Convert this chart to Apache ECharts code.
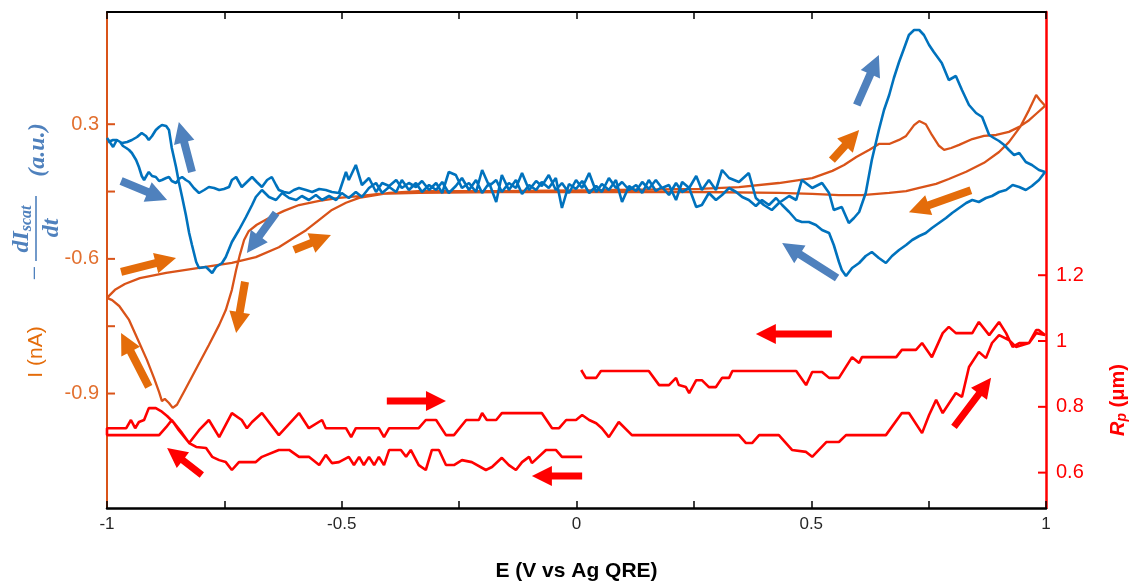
<!DOCTYPE html>
<html>
<head>
<meta charset="utf-8">
<script src="https://cdn.jsdelivr.net/npm/echarts@6/dist/echarts.min.js"></script>
<style>html,body{margin:0;padding:0;background:#fff}#c{width:1131px;height:583px}</style>
</head>
<body>
<div id="c"></div>
<script>
// ---- axis ticks / labels ----
const xLabelValues = [-1, -0.5, 0, 0.5, 1];
const leftTickValues = [-0.9, -0.75, -0.6, -0.45, -0.3];
const leftLabelValues = [-0.9, -0.6, -0.3];
const leftLabelTexts = ['-0.9', '-0.6', '0.3'];
const rightTickValues = [0.6, 0.8, 1, 1.2];
const rightLabelTexts = ['0.6', '0.8', '1', '1.2'];

// ---- -dI_scat/dt (a.u.), forward scan -1 -> 1 ----
const blueFwd = [[-1.000,0.52],[-0.994,0.48],[-0.987,0.43],[-0.979,0.50],[-0.972,0.48],[-0.966,0.44],[-0.959,0.42],[-0.953,0.40],[-0.947,0.37],[-0.938,0.30],[-0.932,0.23],[-0.926,0.14],[-0.921,0.10],[-0.915,0.15],[-0.911,0.18],[-0.904,0.14],[-0.896,0.13],[-0.889,0.09],[-0.883,0.10],[-0.874,0.12],[-0.868,0.13],[-0.862,0.09],[-0.853,0.07],[-0.847,0.11],[-0.840,0.13],[-0.832,0.10],[-0.825,0.08],[-0.815,0.02],[-0.804,-0.03],[-0.793,0.00],[-0.783,0.03],[-0.772,0.02],[-0.761,0.00],[-0.751,0.01],[-0.740,0.03],[-0.734,0.10],[-0.725,0.13],[-0.719,0.08],[-0.713,0.03],[-0.702,0.08],[-0.691,0.13],[-0.681,0.08],[-0.670,0.03],[-0.659,0.10],[-0.649,0.13],[-0.640,0.05],[-0.634,0.00],[-0.623,-0.02],[-0.612,-0.03],[-0.602,0.00],[-0.591,0.02],[-0.576,0.00],[-0.563,-0.02],[-0.548,0.01],[-0.534,0.00],[-0.521,-0.02],[-0.506,-0.03],[-0.491,0.18],[-0.485,0.10],[-0.470,0.25],[-0.457,0.05],[-0.442,0.12],[-0.427,-0.02],[-0.414,0.07],[-0.399,0.04],[-0.384,0.10],[-0.372,0.02],[-0.357,0.07],[-0.342,0.03],[-0.329,0.09],[-0.314,0.00],[-0.299,0.07],[-0.286,-0.03],[-0.272,0.18],[-0.257,0.15],[-0.244,0.02],[-0.229,0.07],[-0.214,-0.02],[-0.201,0.20],[-0.186,0.04],[-0.171,0.10],[-0.159,-0.02],[-0.144,0.07],[-0.129,0.02],[-0.116,0.17],[-0.101,0.00],[-0.086,0.09],[-0.074,0.04],[-0.059,0.15],[-0.044,0.00],[-0.031,0.07],[-0.016,-0.03],[-0.001,0.10],[0.012,0.02],[0.027,0.17],[0.042,-0.02],[0.054,0.06],[0.069,0.00],[0.084,0.10],[0.097,-0.12],[0.112,0.04],[0.127,-0.01],[0.140,0.08],[0.154,0.01],[0.169,0.10],[0.182,0.02],[0.197,0.05],[0.212,-0.10],[0.225,0.08],[0.240,0.02],[0.255,0.14],[0.267,0.00],[0.282,0.10],[0.297,0.00],[0.310,0.20],[0.325,0.12],[0.346,0.08],[0.367,0.17],[0.382,-0.08],[0.399,-0.15],[0.416,-0.20],[0.431,-0.13],[0.453,-0.06],[0.468,-0.10],[0.480,0.10],[0.502,0.02],[0.523,0.07],[0.538,-0.03],[0.548,-0.20],[0.565,-0.17],[0.580,-0.33],[0.591,-0.28],[0.602,-0.22],[0.616,-0.03],[0.629,0.30],[0.644,0.60],[0.655,0.80],[0.666,0.95],[0.676,1.12],[0.687,1.28],[0.698,1.42],[0.708,1.55],[0.719,1.60],[0.730,1.60],[0.740,1.55],[0.751,1.45],[0.761,1.38],[0.778,1.27],[0.793,1.10],[0.808,1.14],[0.821,1.00],[0.836,0.85],[0.851,0.77],[0.864,0.73],[0.879,0.55],[0.889,0.52],[0.900,0.49],[0.911,0.45],[0.921,0.40],[0.932,0.35],[0.943,0.37],[0.957,0.28],[0.970,0.25],[0.985,0.20],[0.998,0.18]];
// ---- reverse scan 1 -> -1 ----
const blueRev = [[0.985,0.10],[0.970,0.04],[0.957,0.00],[0.943,0.03],[0.929,0.05],[0.915,0.00],[0.900,-0.02],[0.885,-0.06],[0.872,-0.08],[0.857,-0.12],[0.843,-0.10],[0.830,-0.13],[0.815,-0.18],[0.800,-0.23],[0.787,-0.28],[0.772,-0.33],[0.757,-0.38],[0.744,-0.43],[0.730,-0.46],[0.715,-0.50],[0.702,-0.55],[0.687,-0.60],[0.672,-0.66],[0.659,-0.73],[0.644,-0.68],[0.629,-0.62],[0.616,-0.66],[0.602,-0.73],[0.587,-0.78],[0.574,-0.86],[0.565,-0.80],[0.559,-0.72],[0.548,-0.55],[0.538,-0.43],[0.523,-0.40],[0.510,-0.35],[0.495,-0.32],[0.480,-0.32],[0.468,-0.30],[0.453,-0.22],[0.438,-0.15],[0.425,-0.08],[0.410,-0.15],[0.395,-0.10],[0.382,-0.16],[0.367,-0.10],[0.353,-0.07],[0.340,-0.02],[0.325,0.02],[0.310,-0.05],[0.297,-0.10],[0.282,-0.03],[0.267,-0.15],[0.255,-0.17],[0.240,0.02],[0.225,-0.02],[0.212,0.07],[0.197,-0.05],[0.182,0.03],[0.169,-0.01],[0.154,0.10],[0.140,-0.03],[0.127,0.05],[0.112,0.00],[0.097,0.08],[0.084,0.02],[0.069,0.12],[0.054,-0.02],[0.042,0.04],[0.027,-0.03],[0.012,0.09],[-0.001,0.01],[-0.016,0.06],[-0.031,-0.18],[-0.044,0.12],[-0.059,0.02],[-0.074,0.08],[-0.086,0.00],[-0.101,0.05],[-0.116,-0.04],[-0.129,0.10],[-0.144,0.00],[-0.159,0.15],[-0.171,-0.12],[-0.186,0.07],[-0.201,-0.03],[-0.214,0.10],[-0.229,0.00],[-0.244,0.12],[-0.257,0.04],[-0.272,-0.03],[-0.286,0.08],[-0.299,0.00],[-0.314,0.05],[-0.329,-0.02],[-0.342,0.07],[-0.357,0.00],[-0.372,0.10],[-0.384,-0.02],[-0.399,0.03],[-0.414,-0.03],[-0.427,0.07],[-0.442,0.02],[-0.457,-0.07],[-0.470,-0.02],[-0.485,-0.08],[-0.500,-0.03],[-0.512,-0.10],[-0.527,-0.06],[-0.542,-0.10],[-0.555,-0.05],[-0.570,-0.10],[-0.585,-0.06],[-0.597,-0.10],[-0.612,-0.08],[-0.627,-0.03],[-0.640,-0.10],[-0.655,-0.07],[-0.670,0.00],[-0.683,-0.07],[-0.691,-0.15],[-0.704,-0.27],[-0.719,-0.40],[-0.734,-0.52],[-0.747,-0.67],[-0.755,-0.73],[-0.768,-0.77],[-0.776,-0.83],[-0.789,-0.77],[-0.804,-0.78],[-0.810,-0.72],[-0.819,-0.55],[-0.825,-0.43],[-0.832,-0.25],[-0.840,-0.07],[-0.847,0.08],[-0.853,0.23],[-0.862,0.42],[-0.868,0.60],[-0.874,0.64],[-0.883,0.65],[-0.889,0.63],[-0.896,0.60],[-0.904,0.54],[-0.911,0.50],[-0.917,0.54],[-0.926,0.57],[-0.936,0.53],[-0.947,0.50],[-0.957,0.48],[-0.968,0.47],[-0.979,0.50],[-0.987,0.50],[-0.998,0.48]];

// ---- I (nA) ----
const orangeFwd = [[-1.000,-0.687],[-0.983,-0.669],[-0.962,-0.656],[-0.930,-0.643],[-0.874,-0.631],[-0.804,-0.620],[-0.734,-0.609],[-0.683,-0.596],[-0.634,-0.574],[-0.602,-0.553],[-0.576,-0.536],[-0.548,-0.513],[-0.521,-0.491],[-0.491,-0.475],[-0.463,-0.464],[-0.399,-0.453],[-0.336,-0.449],[-0.165,-0.449],[0.048,-0.447],[0.261,-0.444],[0.346,-0.440],[0.431,-0.431],[0.502,-0.420],[0.545,-0.404],[0.570,-0.391],[0.596,-0.373],[0.624,-0.357],[0.644,-0.344],[0.666,-0.344],[0.687,-0.335],[0.702,-0.326],[0.719,-0.302],[0.730,-0.293],[0.744,-0.300],[0.757,-0.324],[0.772,-0.348],[0.783,-0.357],[0.798,-0.353],[0.815,-0.346],[0.843,-0.333],[0.868,-0.326],[0.894,-0.324],[0.921,-0.317],[0.943,-0.306],[0.964,-0.291],[0.981,-0.275],[0.998,-0.259]];
const orangeRev = [[0.987,-0.246],[0.979,-0.235],[0.964,-0.268],[0.945,-0.306],[0.921,-0.340],[0.900,-0.362],[0.868,-0.386],[0.830,-0.406],[0.793,-0.422],[0.766,-0.433],[0.730,-0.442],[0.702,-0.449],[0.666,-0.453],[0.608,-0.458],[0.559,-0.458],[0.502,-0.455],[0.431,-0.453],[0.261,-0.451],[0.048,-0.451],[-0.165,-0.451],[-0.336,-0.453],[-0.421,-0.455],[-0.463,-0.460],[-0.506,-0.464],[-0.548,-0.471],[-0.591,-0.480],[-0.623,-0.493],[-0.655,-0.509],[-0.681,-0.524],[-0.698,-0.538],[-0.708,-0.558],[-0.717,-0.591],[-0.725,-0.625],[-0.734,-0.669],[-0.747,-0.714],[-0.761,-0.747],[-0.783,-0.792],[-0.808,-0.841],[-0.834,-0.892],[-0.851,-0.925],[-0.860,-0.932],[-0.868,-0.921],[-0.877,-0.912],[-0.883,-0.917],[-0.889,-0.897],[-0.900,-0.865],[-0.915,-0.825],[-0.932,-0.785],[-0.953,-0.736],[-0.974,-0.705],[-0.989,-0.692],[-1.000,-0.687]];

// ---- R_p (um) ----
const redRevLow = [[0.012,0.648],[-0.031,0.648],[-0.044,0.669],[-0.065,0.669],[-0.095,0.629],[-0.101,0.648],[-0.116,0.632],[-0.129,0.608],[-0.144,0.623],[-0.159,0.645],[-0.180,0.617],[-0.193,0.608],[-0.223,0.632],[-0.244,0.638],[-0.261,0.623],[-0.278,0.623],[-0.293,0.669],[-0.308,0.669],[-0.321,0.608],[-0.336,0.623],[-0.353,0.669],[-0.363,0.648],[-0.374,0.669],[-0.399,0.669],[-0.410,0.623],[-0.421,0.648],[-0.431,0.623],[-0.442,0.648],[-0.453,0.623],[-0.463,0.648],[-0.474,0.623],[-0.485,0.648],[-0.506,0.632],[-0.521,0.629],[-0.534,0.654],[-0.548,0.623],[-0.570,0.648],[-0.591,0.648],[-0.612,0.669],[-0.634,0.669],[-0.670,0.648],[-0.683,0.632],[-0.719,0.632],[-0.734,0.608],[-0.747,0.632],[-0.761,0.638],[-0.776,0.648],[-0.789,0.675],[-0.810,0.678],[-0.825,0.690],[-0.840,0.720],[-0.857,0.751],[-0.872,0.772],[-0.885,0.787],[-0.896,0.796],[-0.911,0.796],[-0.921,0.760],[-0.932,0.754],[-0.940,0.735],[-0.949,0.760],[-0.959,0.735],[-1.000,0.735]];
const redFwd = [[-1.000,0.714],[-0.889,0.714],[-0.874,0.738],[-0.862,0.760],[-0.847,0.729],[-0.825,0.690],[-0.804,0.729],[-0.783,0.760],[-0.761,0.708],[-0.734,0.781],[-0.713,0.760],[-0.702,0.735],[-0.691,0.754],[-0.670,0.781],[-0.634,0.714],[-0.591,0.781],[-0.570,0.735],[-0.542,0.760],[-0.534,0.735],[-0.491,0.735],[-0.480,0.708],[-0.470,0.735],[-0.421,0.735],[-0.410,0.708],[-0.399,0.735],[-0.336,0.735],[-0.321,0.760],[-0.299,0.760],[-0.278,0.714],[-0.261,0.714],[-0.235,0.760],[-0.208,0.760],[-0.201,0.781],[-0.191,0.760],[-0.171,0.760],[-0.159,0.781],[-0.074,0.781],[-0.052,0.735],[-0.037,0.735],[-0.022,0.760],[-0.001,0.760],[0.012,0.775],[0.027,0.760],[0.042,0.750],[0.054,0.735],[0.069,0.708],[0.090,0.754],[0.118,0.714],[0.346,0.714],[0.361,0.690],[0.374,0.690],[0.389,0.714],[0.431,0.714],[0.459,0.669],[0.489,0.663],[0.502,0.648],[0.532,0.693],[0.559,0.693],[0.574,0.714],[0.659,0.714],[0.693,0.781],[0.708,0.781],[0.736,0.720],[0.751,0.775],[0.766,0.821],[0.780,0.781],[0.808,0.842],[0.821,0.830],[0.836,0.921],[0.857,0.967],[0.872,0.948],[0.885,0.994],[0.900,1.018],[0.921,1.003],[0.936,0.982],[0.964,0.994],[0.979,1.024],[0.998,1.018]];
const redRevHigh = [[0.998,1.012],[0.985,1.033],[0.979,1.033],[0.964,0.994],[0.943,0.994],[0.929,0.982],[0.915,1.024],[0.900,1.058],[0.879,1.018],[0.857,1.058],[0.843,1.024],[0.808,1.024],[0.793,1.043],[0.780,1.024],[0.757,0.951],[0.736,0.994],[0.723,0.973],[0.693,0.973],[0.681,0.951],[0.608,0.951],[0.602,0.933],[0.587,0.951],[0.559,0.888],[0.538,0.888],[0.523,0.906],[0.502,0.906],[0.489,0.866],[0.468,0.909],[0.332,0.909],[0.325,0.888],[0.310,0.888],[0.297,0.860],[0.282,0.860],[0.267,0.881],[0.255,0.881],[0.240,0.842],[0.233,0.860],[0.218,0.866],[0.212,0.888],[0.197,0.866],[0.176,0.866],[0.154,0.909],[0.052,0.909],[0.042,0.888],[0.020,0.888],[0.010,0.912]];

// ---- direction arrows [E tail, value tail, E tip, value tip] ----
const blueArrows = [[-0.970,0.09,-0.872,-0.10],[-0.819,0.18,-0.847,0.68],[-0.640,-0.23,-0.702,-0.63],[0.597,0.85,0.644,1.35],[0.555,-0.88,0.438,-0.53]];
const orangeArrows = [[-0.970,-0.629,-0.853,-0.598],[-0.602,-0.580,-0.523,-0.547],[-0.706,-0.651,-0.725,-0.765],[-0.911,-0.885,-0.970,-0.765],[0.544,-0.380,0.602,-0.313],[0.840,-0.447,0.708,-0.496]];
const redArrows = [[-0.404,0.818,-0.278,0.818],[0.012,0.590,-0.095,0.590],[-0.798,0.593,-0.872,0.675],[0.544,1.021,0.382,1.021],[0.804,0.739,0.883,0.888]];

const C_BLUE = '#0072bd', C_BLUE_AR = '#4f81bd', C_OR = '#d95319', C_OR_AR = '#e46c0a', C_OR_TXT = '#e2702f', C_RED = '#ff0000';
const FONT = '"Liberation Sans", Arial, sans-serif';
const SERIF = '"Liberation Serif", serif';

function arrowRender(color, shaft, headW, headL) {
  return function (params, api) {
    const p1 = api.coord([api.value(0), api.value(1)]);
    const p2 = api.coord([api.value(2), api.value(3)]);
    const dx = p2[0] - p1[0], dy = p2[1] - p1[1];
    const len = Math.hypot(dx, dy);
    const ux = dx / len, uy = dy / len, nx = -uy, ny = ux;
    const bx = p2[0] - ux * headL, by = p2[1] - uy * headL;
    const s = shaft / 2, h = headW / 2;
    return {
      type: 'polygon',
      shape: { points: [
        [p1[0] + nx * s, p1[1] + ny * s], [bx + nx * s, by + ny * s], [bx + nx * h, by + ny * h],
        [p2[0], p2[1]],
        [bx - nx * h, by - ny * h], [bx - nx * s, by - ny * s], [p1[0] - nx * s, p1[1] - ny * s]
      ] },
      style: { fill: color }
    };
  };
}
// inward tick marks on a y axis, placed through the axis scale
function tickRender(color, dir) {
  return function (params, api) {
    const p = api.coord([api.value(0), api.value(1)]);
    return { type: 'line', shape: { x1: p[0], y1: p[1], x2: p[0] + dir * 8, y2: p[1] },
      style: { stroke: color, lineWidth: 2 } };
  };
}

const chart = echarts.init(document.getElementById('c'), null, { renderer: 'canvas' });
const lineBase = { type: 'line', showSymbol: false, symbol: 'none', animation: false, clip: true, silent: true };
chart.setOption({
  animation: false,
  backgroundColor: '#fff',
  grid: { left: 107, right: 85, top: 12, bottom: 75, containLabel: false, outerBoundsMode: 'none' },
  xAxis: [{
    type: 'value', min: -1, max: 1, interval: 0.25, position: 'bottom',
    axisLine: { onZero: false, lineStyle: { color: '#000', width: 2.5 } },
    axisTick: { inside: true, length: 7, lineStyle: { color: '#000', width: 1.5 } },
    axisLabel: { margin: 8, fontSize: 17, color: '#262626', fontFamily: FONT,
      formatter: v => xLabelValues.some(t => Math.abs(t - v) < 1e-9) ? String(v) : '' },
    splitLine: { show: false },
    name: 'E (V vs Ag QRE)', nameLocation: 'middle', nameGap: 53,
    nameTextStyle: { fontSize: 21, fontWeight: 'bold', color: '#000', fontFamily: FONT }
  }, {
    type: 'value', min: -1, max: 1, interval: 0.25, position: 'top',
    axisLine: { onZero: false, lineStyle: { color: '#000', width: 2 } },
    axisTick: { inside: true, length: 7, lineStyle: { color: '#000', width: 1.5 } },
    axisLabel: { show: false }, splitLine: { show: false }
  }],
  yAxis: [{
    type: 'value', min: -1.155, max: -0.05, position: 'left',
    axisLine: { show: true, onZero: false, lineStyle: { color: C_OR, width: 2 } },
    axisTick: { show: false },
    axisLabel: { margin: 8, fontSize: 20, color: C_OR_TXT, fontFamily: FONT, customValues: leftLabelValues,
      formatter: v => { const i = leftLabelValues.findIndex(t => Math.abs(t - v) < 1e-9); return i >= 0 ? leftLabelTexts[i] : ''; } },
    splitLine: { show: false }
  }, {
    type: 'value', min: 0.4925, max: 2.0, position: 'right',
    axisLine: { show: true, onZero: false, lineStyle: { color: C_RED, width: 2.5 } },
    axisTick: { show: false },
    axisLabel: { margin: 10, fontSize: 20, color: C_RED, fontFamily: FONT, customValues: rightTickValues,
      formatter: v => { const i = rightTickValues.findIndex(t => Math.abs(t - v) < 1e-9); return i >= 0 ? rightLabelTexts[i] : ''; } },
    splitLine: { show: false }
  }, {
    type: 'value', min: -3.18, max: 1.78, show: false, axisLine: { onZero: false }
  }],
  series: [
    Object.assign({}, lineBase, { name: 'I', yAxisIndex: 0, data: orangeFwd.concat(orangeRev),
      lineStyle: { color: C_OR, width: 2.3 }, z: 3 }),
    Object.assign({}, lineBase, { name: 'dIscat', yAxisIndex: 2, data: blueFwd.concat(blueRev),
      lineStyle: { color: C_BLUE, width: 2.6 }, z: 4 }),
    Object.assign({}, lineBase, { name: 'Rp', yAxisIndex: 1, data: redRevLow.concat(redFwd, redRevHigh),
      lineStyle: { color: C_RED, width: 2.6 }, z: 4 }),
    { type: 'custom', yAxisIndex: 2, data: blueArrows, encode: { x: [0, 2], y: [1, 3] }, clip: false,
      renderItem: arrowRender(C_BLUE_AR, 8, 21, 21), z: 6, silent: true },
    { type: 'custom', yAxisIndex: 0, data: orangeArrows, encode: { x: [0, 2], y: [1, 3] }, clip: false,
      renderItem: arrowRender(C_OR_AR, 8, 21, 21), z: 6, silent: true },
    { type: 'custom', yAxisIndex: 1, data: redArrows, encode: { x: [0, 2], y: [1, 3] }, clip: false,
      renderItem: arrowRender(C_RED, 7, 20, 20), z: 6, silent: true },
    { type: 'custom', yAxisIndex: 0, data: leftTickValues.map(v => [-1, v]), encode: { x: 0, y: 1 }, clip: false,
      renderItem: tickRender(C_OR, 1), z: 7, silent: true },
    { type: 'custom', yAxisIndex: 1, data: rightTickValues.map(v => [1, v]), encode: { x: 0, y: 1 }, clip: false,
      renderItem: tickRender(C_RED, -1), z: 7, silent: true }
  ],
  graphic: [
    { type: 'text', x: 36, y: 352, rotation: Math.PI / 2,
      style: { text: 'I (nA)', fontSize: 21, fontFamily: FONT, fill: C_OR_AR, align: 'center', verticalAlign: 'middle' } },
    { type: 'group', x: 36, y: 200, rotation: Math.PI / 2, children: [
      { type: 'text', x: -73, y: 0, style: { text: '−', fontSize: 26, fontFamily: SERIF, fill: C_BLUE_AR, align: 'center', verticalAlign: 'middle' } },
      { type: 'line', shape: { x1: -61, y1: 0, x2: 4, y2: 0 }, style: { stroke: C_BLUE_AR, lineWidth: 1.6 } },
      { type: 'text', x: -29, y: -14, style: { text: '{a|dI}{b|scat}', align: 'center', verticalAlign: 'middle',
        rich: { a: { fontSize: 24, fontStyle: 'italic', fontWeight: 'bold', fontFamily: SERIF, fill: C_BLUE_AR, color: C_BLUE_AR },
                b: { fontSize: 16, fontStyle: 'italic', fontWeight: 'bold', fontFamily: SERIF, fill: C_BLUE_AR, color: C_BLUE_AR, padding: [10, 0, 0, 0] } } } },
      { type: 'text', x: -28, y: 16, style: { text: 'dt', fontSize: 24, fontStyle: 'italic', fontWeight: 'bold', fontFamily: SERIF, fill: C_BLUE_AR, align: 'center', verticalAlign: 'middle' } },
      { type: 'text', x: 50, y: 2, style: { text: '(a.u.)', fontSize: 24, fontStyle: 'italic', fontWeight: 'bold', fontFamily: SERIF, fill: C_BLUE_AR, align: 'center', verticalAlign: 'middle' } }
    ] },
    { type: 'text', x: 1118, y: 400, rotation: Math.PI / 2,
      style: { text: '{r|R}{s|p}{n| (μm)}', align: 'center', verticalAlign: 'middle',
        rich: { r: { fontSize: 20, fontStyle: 'italic', fontWeight: 'bold', fontFamily: FONT, fill: C_RED, color: C_RED },
                s: { fontSize: 14, fontStyle: 'italic', fontWeight: 'bold', fontFamily: FONT, fill: C_RED, color: C_RED, padding: [8, 0, 0, 0] },
                n: { fontSize: 20, fontWeight: 'bold', fontFamily: FONT, fill: C_RED, color: C_RED } } } }
  ]
});
</script>
</body>
</html>
